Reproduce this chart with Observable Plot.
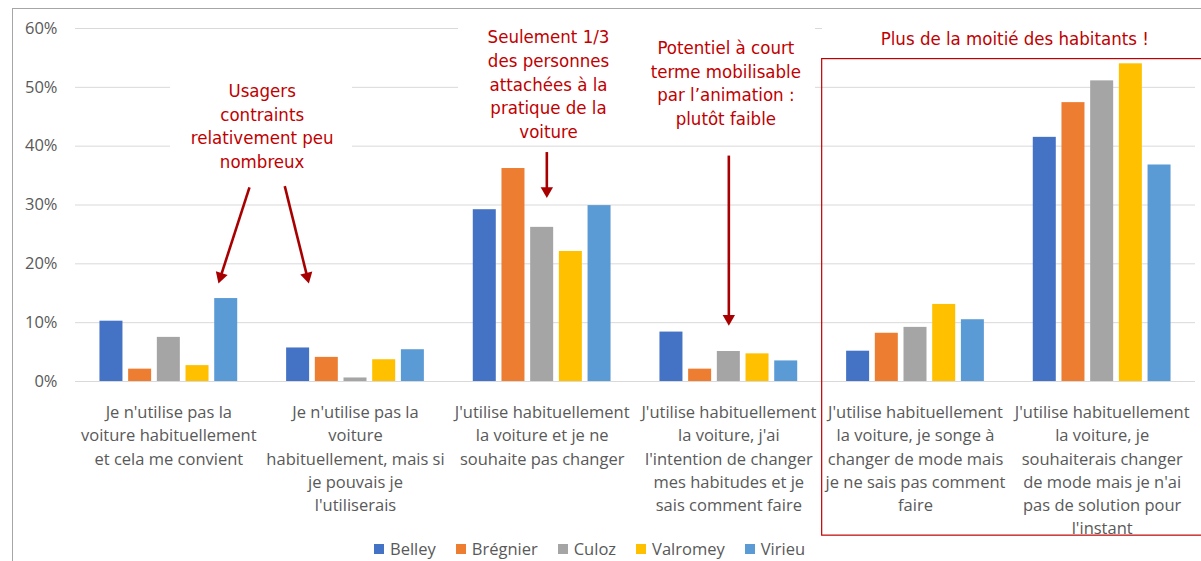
<!DOCTYPE html>
<html>
<head>
<meta charset="utf-8">
<script src="https://cdn.jsdelivr.net/npm/d3@7"></script>
<script src="https://cdn.jsdelivr.net/npm/@observablehq/plot@0.6"></script>
<style>
  html, body { margin: 0; padding: 0; background: #fff; }
  body { width: 1201px; height: 561px; overflow: hidden; position: relative; }
  #chart { position: absolute; left: 0; top: 0; }
  #legend { position: absolute; left: 374px; top: 537px; }
  #frame { position: absolute; left: 12px; top: 8px; width: 1200px; height: 560px;
           border-top: 1.5px solid #a6a6a6; border-left: 1.5px solid #a6a6a6; pointer-events: none; }
  .lg-swatches { font-family: "Open Sans", sans-serif !important; font-size: 16.5px !important; color: #595959 !important; margin: 0 !important; }
  .lg-swatches-wrap { min-height: 20px !important; }
  .lg-swatch { margin-right: 20px !important; }
  .lg-swatch > svg { margin-right: 6px !important; }
</style>
</head>
<body>
<div id="chart"></div>
<div id="legend"></div>
<div id="frame"></div>
<script>
// ---- data ----
const categories = [
  "Je n'utilise pas la\nvoiture habituellement\net cela me convient",
  "Je n'utilise pas la\nvoiture\nhabituellement, mais si\nje pouvais je\nl'utiliserais",
  "J'utilise habituellement\nla voiture et je ne\nsouhaite pas changer",
  "J'utilise habituellement\nla voiture, j'ai\nl'intention de changer\nmes habitudes et je\nsais comment faire",
  "J'utilise habituellement\nla voiture, je songe à\nchanger de mode mais\nje ne sais pas comment\nfaire",
  "J'utilise habituellement\nla voiture, je\nsouhaiterais changer\nde mode mais je n'ai\npas de solution pour\nl'instant"
];
const towns = ["Belley", "Brégnier", "Culoz", "Valromey", "Virieu"];
const colors = ["#4472C4", "#ED7D31", "#A5A5A5", "#FFC000", "#5B9BD5"];

const belley   = [10.25, 5.7, 29.2, 8.4, 5.15, 41.5];
const bregnier = [2.1,   4.1, 36.2, 2.1, 8.2,  47.4];
const culoz    = [7.5,   0.6, 26.2, 5.1, 9.2,  51.1];
const valromey = [2.7,   3.7, 22.1, 4.7, 13.1, 54.0];
const virieu   = [14.1,  5.4, 29.9, 3.5, 10.5, 36.8];

const yTicks = [0, 10, 20, 30, 40, 50, 60];

// annotations (x in category units, y in %)
const notes = [
  {text: "Usagers\ncontraints\nrelativement peu\nnombreux", x: 0.5, y: 43.6},
  {text: "Seulement 1/3\ndes personnes\nattachées à la\npratique de la\nvoiture", x: 2.034, y: 50.7},
  {text: "Potentiel à court\nterme mobilisable\npar l’animation :\nplutôt faible", x: 2.984, y: 50.9},
  {text: "Plus de la moitié des habitants !", x: 4.532, y: 58.5}
];
const noteBoxes = [
  {x1: 0.009, x2: 0.984, y1: 35, y2: 53.7},
  {x1: 1.552, x2: 3.464, y1: 41, y2: 62.2},
  {x1: 3.502, x2: 5.6, y1: 55.1, y2: 62.2}
];
const arrows = [
  {x1: 0.432, y1: 33.0, x2: 0.266, y2: 16.7},
  {x1: 0.621, y1: 33.2, x2: 0.750, y2: 16.7},
  {x1: 2.025, y1: 39.0, x2: 2.025, y2: 31.2},
  {x1: 3.0,   y1: 38.4, x2: 3.0,   y2: 9.5}
];
const highlight = [{x1: 3.5, x2: 5.6, y1: -26.2, y2: 54.8}];

// ---- layout ----
const W = 1201, H = 540, ML = 75, MR = 6, MT = 28, MB = 159;
const xDomain = [-0.5, 5.5], yDomain = [0, 60];
const kx = (W - ML - MR) / (xDomain[1] - xDomain[0]); // px per category unit
const ky = (H - MT - MB) / (yDomain[1] - yDomain[0]); // px per percent

// ---- build table ----
const series = [belley, bregnier, culoz, valromey, virieu];
const rows = [];
series.forEach((vals, j) => vals.forEach((v, g) => rows.push({g, j, town: towns[j], value: v})));

const STEP = 0.1537;  // distance between bar centers, in category units
const HALF = 0.0616;  // half bar width, in category units

// arrow heads: triangle centroid set back from the tip along the arrow direction
const HEAD_BACK = 7; // px
const heads = arrows.map(a => {
  const dx = (a.x2 - a.x1) * kx, dy = -(a.y2 - a.y1) * ky; // screen direction
  const len = Math.hypot(dx, dy), ux = dx / len, uy = dy / len;
  return {
    x: a.x2 - ux * HEAD_BACK / kx,
    y: a.y2 + uy * HEAD_BACK / ky,
    x1: a.x1, y1: a.y1,
    angle: Math.atan2(ux, -uy) * 180 / Math.PI
  };
});

const red = "#C00000", darkRed = "#A80000";

const chart = Plot.plot({
  width: W,
  height: H,
  marginLeft: ML,
  marginRight: MR,
  marginTop: MT,
  marginBottom: MB,
  x: {domain: xDomain, axis: null},
  y: {domain: yDomain, axis: null},
  color: {domain: towns, range: colors},
  style: {fontFamily: "'Open Sans', sans-serif", fontSize: "16.5px", background: "white", overflow: "hidden"},
  marks: [
    Plot.gridY(yTicks, {stroke: "#d9d9d9", strokeOpacity: 1, strokeWidth: 1}),
    Plot.axisY(yTicks, {tickSize: 0, tickPadding: 18, tickFormat: d => d + "%", color: "#595959", fontSize: 16.5}),
    Plot.axisX(d3.range(categories.length), {
      tickSize: 0, tickPadding: 20, tickFormat: i => categories[i],
      color: "#595959", fontSize: 16.5, lineHeight: 1.41
    }),
    Plot.rect(noteBoxes, {x1: "x1", x2: "x2", y1: "y1", y2: "y2", fill: "white"}),
    Plot.rectY(rows, {
      x1: d => d.g + (d.j - 2) * STEP - HALF,
      x2: d => d.g + (d.j - 2) * STEP + HALF,
      y: "value",
      fill: "town"
    }),
    Plot.rect(highlight, {x1: "x1", x2: "x2", y1: "y1", y2: "y2", fill: "none", stroke: red, strokeWidth: 1.2}),
    Plot.text(notes, {
      x: "x", y: "y", text: "text", fill: red,
      fontFamily: "DejaVu Sans Condensed, DejaVu Sans, sans-serif",
      fontSize: 18.5, lineHeight: 1.28
    }),
    Plot.link(heads, {x1: "x1", y1: "y1", x2: "x", y2: "y", stroke: darkRed, strokeWidth: 2.6}),
    Plot.dot(heads, {x: "x", y: "y", symbol: "triangle", r: 4.6, fill: darkRed, stroke: "none", rotate: "angle"})
  ]
});
document.getElementById("chart").appendChild(chart);

const lg = Plot.legend({
  color: {domain: towns, range: colors},
  legend: "swatches",
  swatchSize: 10,
  className: "lg"
});
document.getElementById("legend").appendChild(lg);
</script>
</body>
</html>
